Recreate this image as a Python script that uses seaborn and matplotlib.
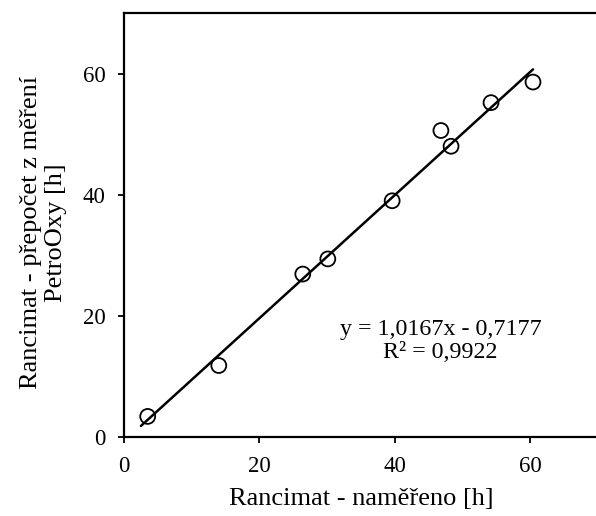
import matplotlib
matplotlib.use("Agg")
import matplotlib.pyplot as plt
import seaborn as sns
import numpy as np
import pandas as pd

# Data
measured = [3.5, 14.0, 26.4, 30.1, 39.6, 46.8, 48.3, 54.2, 60.4]
computed = [3.4, 11.8, 26.9, 29.4, 39.0, 50.6, 48.0, 55.2, 58.6]
slope = 1.0167
intercept = -0.7177
r2 = 0.9922
trend_x = [2.5, 60.4]
ticks = [0, 20, 40, 60]

sns.set_theme(style="ticks")
plt.rcParams['font.family'] = ['Liberation Serif', 'DejaVu Serif']

df = pd.DataFrame({"x": measured, "y": computed})
tdf = pd.DataFrame({"x": trend_x, "y": [slope * v + intercept for v in trend_x]})

fig = plt.figure(figsize=(5.96, 5.16), dpi=100)
ax = fig.add_axes([124/596, 1 - 437/516, (598-124)/596, (437-13)/516])

sns.lineplot(data=tdf, x="x", y="y", ax=ax, color="black", linewidth=1.8)
sns.scatterplot(data=df, x="x", y="y", ax=ax, marker="o", s=115,
                facecolor="none", edgecolor="black", linewidth=1.3, zorder=3)

ax.set_xlim(0, 70)
ax.set_ylim(0, 70)
ax.set_xticks(ticks)
ax.set_yticks(ticks)
for s in ax.spines.values():
    s.set_color("black")
    s.set_linewidth(1.6)
ax.tick_params(axis="both", direction="out", length=4.5, width=1.3, colors="black",
               labelsize=16.5, pad=9)

ax.set_xlabel("Rancimat - naměřeno [h]", fontsize=19, color="black", labelpad=8)
ax.set_ylabel("Rancimat - přepočet z měření\nPetroOxy [h]", fontsize=19,
              color="black", labelpad=11, linespacing=1.2)
ax.yaxis.label.set_y(0.483)

ax.text(46.75, 15.85, f"y = {slope:.4f}x - {abs(intercept):.4f}\nR² = {r2:.4f}".replace(".", ","),
        ha="center", va="center", fontsize=17.3, color="black", linespacing=1.15)

fig.savefig("out.png", dpi=100)
